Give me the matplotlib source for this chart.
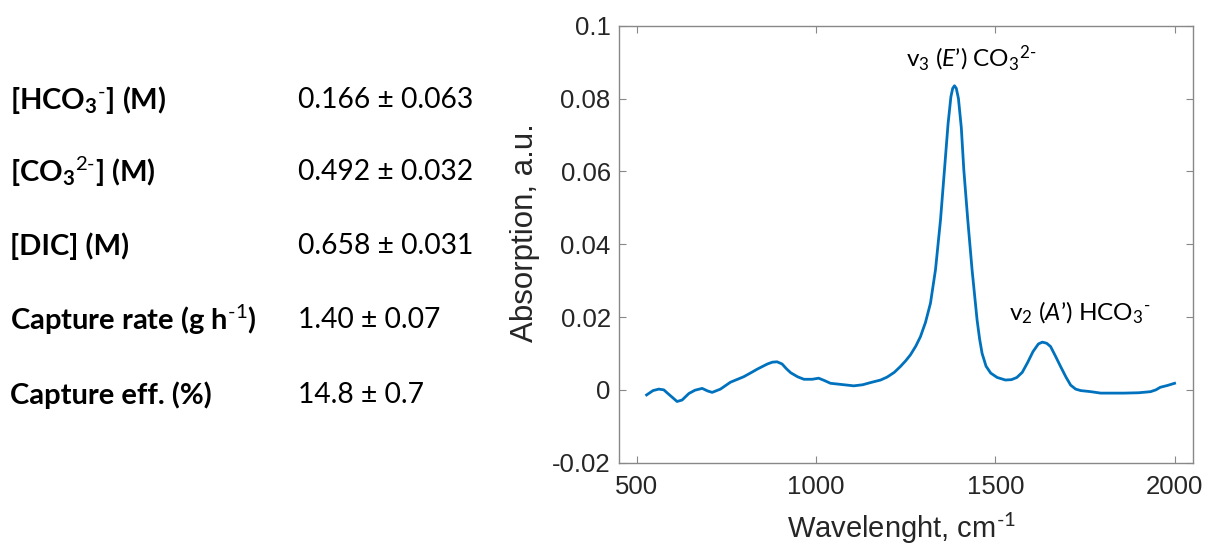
import matplotlib
matplotlib.use("Agg")
import matplotlib.pyplot as plt

# spectrum
wavenumber = [527, 545, 561, 575, 584, 598, 612, 626, 645, 662, 682, 697, 710, 733,
              761, 798, 820, 836, 864, 878, 891, 905, 917, 929, 948, 966, 989, 1007,
              1022, 1040, 1068, 1105, 1130, 1152, 1180, 1198, 1218, 1235, 1250, 1263,
              1278, 1291, 1305, 1319, 1333, 1347, 1358, 1368, 1376, 1381, 1386, 1391,
              1397, 1405, 1412, 1423, 1435, 1449, 1456, 1463, 1474, 1487, 1505, 1528,
              1545, 1560, 1575, 1590, 1605, 1620, 1631, 1643, 1654, 1668, 1682, 1697,
              1710, 1724, 1738, 1766, 1794, 1826, 1858, 1900, 1933, 1948, 1960, 1980, 2000]
absorption = [-0.0014, -0.0002, 0.0002, 0.0, -0.0008, -0.0020, -0.0032, -0.0028, -0.0010,
              -0.0001, 0.0004, -0.0003, -0.0007, 0.0002, 0.0021, 0.0036, 0.0048, 0.0057,
              0.0071, 0.0076, 0.0077, 0.0071, 0.0058, 0.0047, 0.0036, 0.0029, 0.0029,
              0.0032, 0.0026, 0.0018, 0.0015, 0.0011, 0.0014, 0.0020, 0.0027, 0.0035,
              0.0048, 0.0064, 0.0080, 0.0096, 0.0120, 0.0146, 0.0185, 0.0238, 0.0330,
              0.0467, 0.0604, 0.0730, 0.0805, 0.0828, 0.0835, 0.0828, 0.0800, 0.0720,
              0.0604, 0.0467, 0.0330, 0.0192, 0.0140, 0.0100, 0.0065, 0.0046, 0.0034,
              0.0027, 0.0028, 0.0034, 0.0048, 0.0075, 0.0105, 0.0126, 0.0131, 0.0128,
              0.0119, 0.0092, 0.0064, 0.0035, 0.0013, 0.0002, -0.0002, -0.0005, -0.0009,
              -0.0009, -0.0009, -0.0008, -0.0005, 0.0000, 0.0007, 0.0012, 0.0018]

xticks = [500, 1000, 1500, 2000]
yticks = [-0.02, 0, 0.02, 0.04, 0.06, 0.08, 0.1]
ytick_labels = ["-0.02", "0", "0.02", "0.04", "0.06", "0.08", "0.1"]

# table on the left
row_labels = ["[HCO$_3$$^{\\text{-}}$] (M)", "[CO$_3$$^{\\text{2-}}$] (M)", "[DIC] (M)",
              "Capture rate (g h$^{\\text{-1}}$)", "Capture eff. (%)"]
row_values = ["0.166 ± 0.063", "0.492 ± 0.032", "0.658 ± 0.031",
              "1.40 ± 0.07", "14.8 ± 0.7"]

plt.rcParams["mathtext.fontset"] = "custom"
plt.rcParams["mathtext.rm"] = "Lato"
plt.rcParams["mathtext.it"] = "Lato:italic"
plt.rcParams["mathtext.bf"] = "Lato:bold"
plt.rcParams["mathtext.default"] = "regular"

fig = plt.figure(figsize=(12.13, 5.51), dpi=100)

row_y = [0.8185, 0.688, 0.5535, 0.419, 0.283]
for lab, val, yy in zip(row_labels, row_values, row_y):
    fig.text(0.0082, yy, lab, family=["Lato", "DejaVu Sans"], weight="bold",
             fontsize=21, va="center", ha="left", color="black")
    fig.text(0.2457, yy, val, family=["Lato", "DejaVu Sans"],
             fontsize=20.3, va="center", ha="left", color="black")

ax = fig.add_axes([0.5103, 0.1603, 0.4728, 0.7931])
ax.plot(wavenumber, absorption, color="#0072BD", lw=2, solid_joinstyle="round")

ax.set_xlim(450, 2050)
ax.set_ylim(-0.02, 0.1)
ax.set_xticks(xticks)
ax.set_yticks(yticks)
ax.set_yticklabels(ytick_labels)

ax.tick_params(direction="in", top=True, right=True, length=5, width=0.8,
               colors="#888888", labelcolor="#262626", labelsize=18.5)
ax.tick_params(axis="x", pad=9)
ax.tick_params(axis="y", pad=6)
for lab in ax.get_xticklabels() + ax.get_yticklabels():
    lab.set_family(["Liberation Sans", "DejaVu Sans"])
for sp in ax.spines.values():
    sp.set_color("#888888")
    sp.set_linewidth(1)

ax.set_xlabel("Wavelenght, cm$^{\\text{-1}}$", fontsize=21, color="#262626",
              family=["Liberation Sans", "DejaVu Sans"])
ax.set_ylabel("Absorption, a.u.", fontsize=22.5, color="#262626",
              family=["Liberation Sans", "DejaVu Sans"])
ax.xaxis.set_label_coords(0.492, -0.108)
ax.yaxis.set_label_coords(-0.138, 0.526)

ax.text(1252, 0.0888, "v$_3$ ($\\mathit{E}$’) CO$_3$$^{\\text{2-}}$", fontsize=17.5,
        family=["Lato", "DejaVu Sans"], ha="left", va="baseline")
ax.text(1537, 0.019, "v$_2$ ($\\mathit{A}$’) HCO$_3$$^{\\text{-}}$", fontsize=17.5,
        family=["Lato", "DejaVu Sans"], ha="left", va="baseline")

fig.savefig("out.png", dpi=100)
